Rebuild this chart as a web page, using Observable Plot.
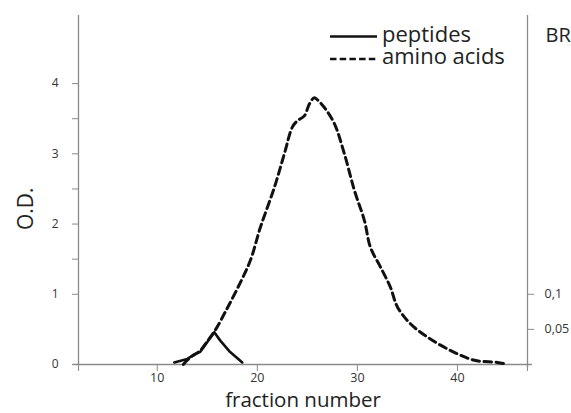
<!DOCTYPE html>
<html>
<head>
<meta charset="utf-8">
<script src="https://cdn.jsdelivr.net/npm/d3@7"></script>
<script src="https://cdn.jsdelivr.net/npm/@observablehq/plot@0.6"></script>
<style>
  html, body { margin: 0; padding: 0; background: #fff; }
  #chart { width: 571px; height: 413px; }
  svg { font-family: "Open Sans", sans-serif; }
</style>
</head>
<body>
<div id="chart"></div>
<script>
// Peptides (solid)
const pepFraction = [11.7, 13.0, 13.7, 14.3, 15.0, 15.7, 16.3, 17.2, 18.5];
const pepOD       = [0.03, 0.08, 0.14, 0.18, 0.32, 0.46, 0.34, 0.19, 0.03];

// Amino acids (dashed)
const aaFraction = [12.6, 13.3, 14.3, 15.0, 15.8, 16.8, 18.0, 19.3, 20.3, 21.7, 22.7, 23.5, 24.0, 24.7, 25.2, 25.7, 26.0, 26.7, 27.7, 28.7, 29.7, 30.7, 31.3, 32.3, 33.3, 34.0, 35.3, 37.0, 39.3, 41.7, 44.0, 45.0];
const aaOD       = [0.00, 0.10, 0.20, 0.33, 0.49, 0.75, 1.08, 1.48, 1.95, 2.52, 3.00, 3.38, 3.47, 3.54, 3.71, 3.80, 3.77, 3.66, 3.43, 3.00, 2.48, 2.05, 1.67, 1.39, 1.10, 0.82, 0.58, 0.39, 0.20, 0.06, 0.03, 0.00];

// Axes
const xDomain = [2.13, 47.0];
const yDomain = [0, 4.97];
const xTicks = [10, 20, 30, 40];
const yTicks = [0, 1, 1.5, 2, 2.5, 3, 3.5, 4];
const yLabelTicks = [0, 1, 2, 3, 4];
const brTicks = [0.1, 0.05];
const brTickLabels = ["0,1", "0,05"];
const brToOD = 10;
const legendLabels = ["peptides", "amino acids"];

const peptides = pepFraction.map((f, i) => ({fraction: f, od: pepOD[i]}));
const amino = aaFraction.map((f, i) => ({fraction: f, od: aaOD[i]}));

const axisGray = "#8a8a8a";
const textCol = "#333";

const plot = Plot.plot({
  width: 571,
  height: 413,
  marginLeft: 78,
  marginRight: 44,
  marginTop: 15,
  marginBottom: 49,
  x: {domain: xDomain},
  y: {domain: yDomain},
  style: {fontFamily: "'Open Sans', sans-serif", background: "#fff"},
  marks: [
    // axis lines
    Plot.ruleX([xDomain[0]], {y1: yDomain[0], y2: yDomain[1], stroke: axisGray, strokeWidth: 1.3}),
    Plot.ruleX([xDomain[1]], {y1: -0.06, y2: yDomain[1], stroke: axisGray, strokeWidth: 1.3}),
    Plot.ruleY([0], {x1: 1.6, x2: 47.5, stroke: axisGray, strokeWidth: 1.3}),
    // left axis
    Plot.axisY({
      ticks: yTicks, tickSize: 6, tickPadding: 14, fontSize: 12,
      tickFormat: d => yLabelTicks.includes(d) ? String(d) : "",
      stroke: axisGray, fill: textCol, label: null
    }),
    // bottom axis
    Plot.axisX({
      ticks: [xDomain[0], ...xTicks, xDomain[1]], tickSize: 7, tickPadding: 2, fontSize: 12.5,
      tickFormat: d => xTicks.includes(d) ? String(d) : "",
      stroke: axisGray, fill: textCol, label: null
    }),
    // right (BR) axis
    Plot.axisY({
      anchor: "right",
      ticks: brTicks.map(v => v * brToOD), tickSize: 6, tickPadding: 11, fontSize: 12.5,
      tickFormat: d => brTickLabels[brTicks.findIndex(v => Math.abs(v * brToOD - d) < 1e-9)],
      stroke: axisGray, fill: textCol, label: null
    }),
    // data
    Plot.line(amino, {x: "fraction", y: "od", curve: "catmull-rom", stroke: "#111", strokeWidth: 3, strokeDasharray: "7.5,4.5"}),
    Plot.line(peptides, {x: "fraction", y: "od", stroke: "#111", strokeWidth: 2.6}),
    // axis titles
    Plot.text(["O.D."], {frameAnchor: "left", rotate: -90, dx: -52, dy: 40, fontSize: 21, fill: "#222"}),
    Plot.text(["fraction number"], {frameAnchor: "bottom", dy: 42, fontSize: 20.5, fill: "#222"}),
    Plot.text(["BR"], {frameAnchor: "top-right", textAnchor: "start", lineAnchor: "middle", dx: 18, dy: 20, fontSize: 20, fill: "#222"})
  ]
});

// legend
const svg = d3.select(plot);
const leg = svg.append("g")
  .attr("text-anchor", "start")
  .style("font-family", "'Open Sans', sans-serif")
  .style("font-size", "22px")
  .attr("fill", "#222");
leg.append("line").attr("x1", 330).attr("x2", 377).attr("y1", 36.5).attr("y2", 36.5)
  .attr("stroke", "#111").attr("stroke-width", 2.6);
leg.append("text").attr("x", 382).attr("y", 42).text(legendLabels[0]);
leg.append("line").attr("x1", 330).attr("x2", 377).attr("y1", 59).attr("y2", 59)
  .attr("stroke", "#111").attr("stroke-width", 2.6).attr("stroke-dasharray", "6.5,3.2");
leg.append("text").attr("x", 382).attr("y", 64).text(legendLabels[1]);

document.getElementById("chart").appendChild(plot);
</script>
</body>
</html>
